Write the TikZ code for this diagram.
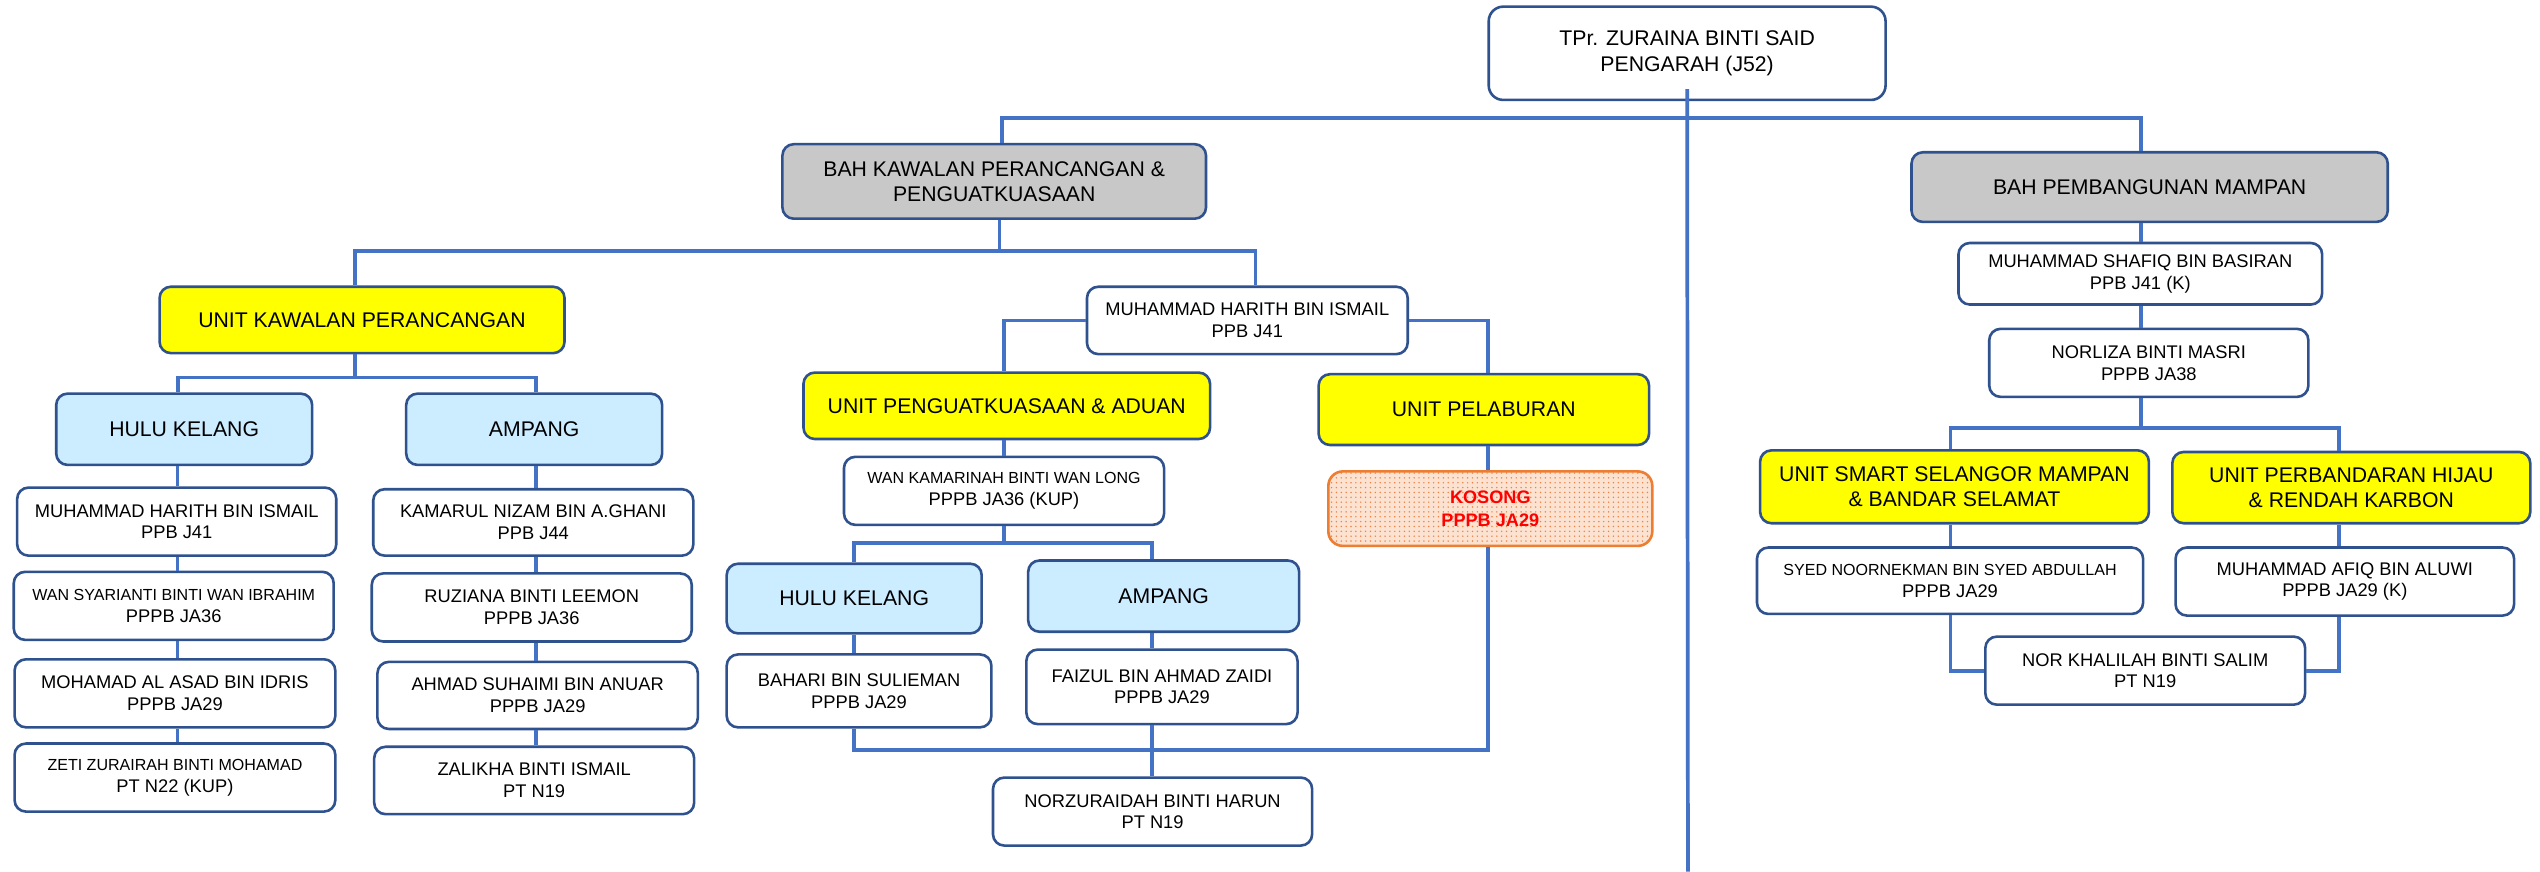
\documentclass[tikz,border=0pt]{standalone}
\usepackage{fontspec}
\setmainfont{Liberation Sans}
\usetikzlibrary{patterns}
\definecolor{bordc}{RGB}{47,82,143}
\definecolor{connc}{RGB}{68,114,196}
\definecolor{grayf}{RGB}{200,200,200}
\definecolor{bluef}{RGB}{204,236,255}
\definecolor{yellowf}{RGB}{255,255,0}
\definecolor{orangeb}{RGB}{237,125,49}
\definecolor{dotc}{RGB}{238,130,70}
\definecolor{kosf}{RGB}{252,226,208}
\newcommand{\orgbig}{\fontsize{13.1}{15.6}\selectfont}
\newcommand{\orgnorm}{\fontsize{11.3}{13.4}\selectfont}
\newcommand{\orgsmall}{\fontsize{9.9}{13.4}\selectfont}
\newcommand{\orgbold}{\fontsize{11.2}{14}\selectfont\bfseries}
\begin{document}
\begin{tikzpicture}[x=1pt,y=-1pt,
  box/.style={draw=bordc, line width=1.6pt, rounded corners=7pt, inner sep=0pt, align=center, fill=white, font=\orgnorm},
  hdr/.style={box, font=\orgbig},
  grayb/.style={hdr, fill=grayf},
  yelb/.style={hdr, fill=yellowf},
  blub/.style={hdr, fill=bluef},
  kosb/.style={box, draw=orangeb, rounded corners=9pt, fill=kosf, postaction={pattern=dots, pattern color=dotc}, text=red, font=\orgbold},
  conn/.style={draw=connc, line width=2.3pt},
  sz/.style 2 args={minimum width=#1pt, minimum height=#2pt}
]
\path[use as bounding box, fill=white] (0,0) rectangle (1568,538);

% nodes
\node[box, sz={245}{57.6}, rounded corners=9pt, font=\orgbig] (top) at (1041.5,32.9) {TPr. ZURAINA BINTI SAID\\PENGARAH (J52)};
\node[grayb, sz={261.5}{46}] (bahk) at (613.75,112) {BAH KAWALAN PERANCANGAN \&\\PENGUATKUASAAN};
\node[grayb, sz={294}{43}] (bahp) at (1327,115.5) {BAH PEMBANGUNAN MAMPAN};
\node[box, sz={198}{41.6}] (mh) at (770,197.8) {MUHAMMAD HARITH BIN ISMAIL\\PPB J41};
\node[yelb, sz={250}{41}] (ukp) at (223.5,197.5) {UNIT KAWALAN PERANCANGAN};
\node[yelb, sz={251}{41}] (upa) at (621.5,250.5) {UNIT PENGUATKUASAAN \& ADUAN};
\node[yelb, sz={204}{43.7}] (up) at (916,252.85) {UNIT PELABURAN};
\node[blub, sz={158}{44}] (hka) at (113.7,265) {HULU KELANG};
\node[blub, sz={158}{44}] (ama) at (329.75,265) {AMPANG};
\node[box, sz={197}{42}] (mha) at (109.1,322) {MUHAMMAD HARITH BIN ISMAIL\\PPB J41};
\node[box, sz={197.6}{41}] (kn) at (329.2,322.5) {KAMARUL NIZAM BIN A.GHANI\\PPB J44};
\node[box, sz={197.5}{42}] (ws) at (107.25,374) {{\orgsmall WAN SYARIANTI BINTI WAN IBRAHIM}\\PPPB JA36};
\node[box, sz={198}{42}] (ma) at (108,428) {MOHAMAD AL ASAD BIN IDRIS\\PPPB JA29};
\node[box, sz={198}{42}] (zeti) at (108,480) {{\orgsmall ZETI ZURAIRAH BINTI MOHAMAD}\\PT N22 (KUP)};
\node[box, sz={197.5}{42}] (ruz) at (328.25,375) {RUZIANA BINTI LEEMON\\PPPB JA36};
\node[box, sz={197.8}{41.4}] (ahs) at (331.9,429.3) {AHMAD SUHAIMI BIN ANUAR\\PPPB JA29};
\node[box, sz={197.5}{41.6}] (zal) at (329.75,481.8) {ZALIKHA BINTI ISMAIL\\PT N19};
\node[box, sz={197.6}{42}] (wk) at (619.8,303) {{\orgsmall WAN KAMARINAH BINTI WAN LONG}\\PPPB JA36 (KUP)};
\node[blub, sz={157.4}{43}] (hkb) at (527.3,369.5) {HULU KELANG};
\node[blub, sz={167.3}{44}] (amb) at (718.35,368) {AMPANG};
\node[box, sz={163.4}{45}] (bah) at (530.3,426.5) {BAHARI BIN SULIEMAN\\PPPB JA29};
\node[box, sz={167.4}{46}] (fai) at (717.3,424) {FAIZUL BIN AHMAD ZAIDI\\PPPB JA29};
\node[box, sz={197}{42}] (norz) at (711.5,501) {NORZURAIDAH BINTI HARUN\\PT N19};
\node[kosb, sz={200}{46}] (kos) at (920,314) {KOSONG\\PPPB JA29};
\node[box, sz={224.5}{38}] (ms) at (1321.25,169) {MUHAMMAD SHAFIQ BIN BASIRAN\\PPB J41 (K)};
\node[box, sz={197}{42}] (nl) at (1326.5,224) {NORLIZA BINTI MASRI\\PPPB JA38};
\node[yelb, sz={240}{45}] (uss) at (1206.55,300.5) {UNIT SMART SELANGOR MAMPAN\\\& BANDAR SELAMAT};
\node[yelb, sz={221}{44}] (uph) at (1451.5,301) {UNIT PERBANDARAN HIJAU\\\& RENDAH KARBON};
\node[box, sz={238.4}{41}] (syed) at (1203.8,358.5) {{\orgsmall SYED NOORNEKMAN BIN SYED ABDULLAH}\\PPPB JA29};
\node[box, sz={209}{42}] (afiq) at (1447.5,359) {MUHAMMAD AFIQ BIN ALUWI\\PPPB JA29 (K)};
\node[box, sz={197.4}{42}] (nk) at (1324.3,414) {NOR KHALILAH BINTI SALIM\\PT N19};

% junction coordinates
\coordinate (b0l) at (618.6,73);
\coordinate (b0r) at (1321.5,73);
\coordinate (b1c) at (617,155);
\coordinate (b1l) at (219,155);
\coordinate (b1r) at (775,155);
\coordinate (b2c) at (219,233);
\coordinate (b2l) at (110,233);
\coordinate (b2r) at (330.7,233);
\coordinate (colL) at (109.5,0);
\coordinate (colR) at (331,0);
\coordinate (mhl) at (620,0);
\coordinate (mhr) at (918.5,0);
\coordinate (b3c) at (620,335);
\coordinate (b3l) at (527,335);
\coordinate (b3r) at (711,335);
\coordinate (b4l) at (527,463);
\coordinate (b4r) at (918.5,463);
\coordinate (rc) at (1321.5,0);
\coordinate (b5c) at (1321.5,264);
\coordinate (b5l) at (1204,264);
\coordinate (b5r) at (1444,264);
\coordinate (bot) at (1042,538);

% connectors
\draw[conn] ([yshift=7.5pt]top.south) -- (bot);
\draw[conn] (bahk.north -| b0l) -- (b0l) -- (b0r) -- (bahp.north -| b0r);
\draw[conn] (bahk.south -| b1c) -- (b1c);
\draw[conn] (ukp.north -| b1l) -- (b1l) -- (b1r) -- (mh.north -| b1r);
\draw[conn] (ukp.south -| b2c) -- (b2c);
\draw[conn] (hka.north -| b2l) -- (b2l) -- (b2r) -- (ama.north -| b2r);
\draw[conn] (hka.south -| colL) -- (mha.north -| colL);
\draw[conn] (mha.south -| colL) -- (ws.north -| colL);
\draw[conn] (ws.south -| colL) -- (ma.north -| colL);
\draw[conn] (ma.south -| colL) -- (zeti.north -| colL);
\draw[conn] (ama.south -| colR) -- (kn.north -| colR);
\draw[conn] (kn.south -| colR) -- (ruz.north -| colR);
\draw[conn] (ruz.south -| colR) -- (ahs.north -| colR);
\draw[conn] (ahs.south -| colR) -- (zal.north -| colR);
\draw[conn] (mh.west) -| (upa.north -| mhl);
\draw[conn] (mh.east) -| (up.north -| mhr);
\draw[conn] (upa.south -| mhl) -- (wk.north -| mhl);
\draw[conn] (wk.south -| b3c) -- (b3c);
\draw[conn] (hkb.north -| b3l) -- (b3l) -- (b3r) -- (amb.north -| b3r);
\draw[conn] (hkb.south -| b3l) -- (bah.north -| b3l);
\draw[conn] (amb.south -| b3r) -- (fai.north -| b3r);
\draw[conn] (bah.south -| b4l) -- (b4l) -- (b4r) -- (kos.south -| b4r);
\draw[conn] (fai.south -| b3r) -- (norz.north -| b3r);
\draw[conn] (up.south -| mhr) -- (kos.north -| mhr);
\draw[conn] (bahp.south -| rc) -- (ms.north -| rc);
\draw[conn] (ms.south -| rc) -- (nl.north -| rc);
\draw[conn] (nl.south -| b5c) -- (b5c);
\draw[conn] (uss.north -| b5l) -- (b5l) -- (b5r) -- (uph.north -| b5r);
\draw[conn] (uss.south -| b5l) -- (syed.north -| b5l);
\draw[conn] (uph.south -| b5r) -- (afiq.north -| b5r);
\draw[conn] (syed.south -| b5l) |- (nk.west);
\draw[conn] (afiq.south -| b5r) |- (nk.east);
\end{tikzpicture}
\end{document}
